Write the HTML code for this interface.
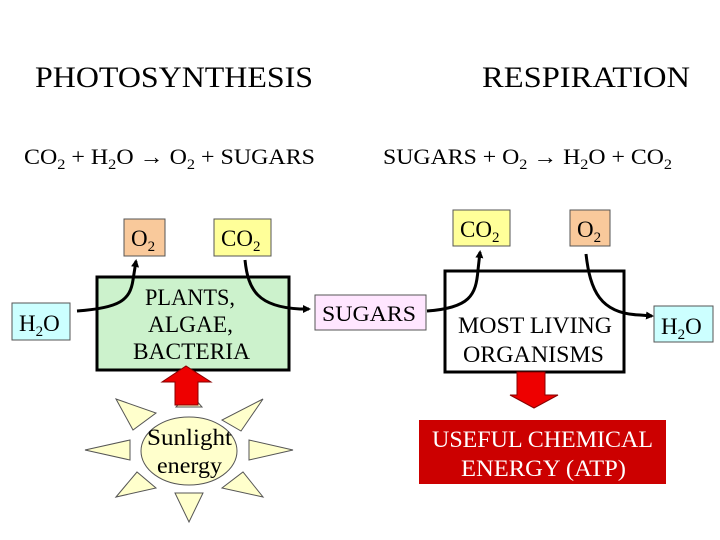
<!DOCTYPE html>
<html><head><style>body{margin:0;background:#fff}svg{display:block}</style></head>
<body>
<svg width="720" height="540" viewBox="0 0 720 540" xmlns="http://www.w3.org/2000/svg" font-family="Liberation Serif, serif">
<defs>
<marker id="ah" markerWidth="8" markerHeight="8" refX="6" refY="4" orient="auto" markerUnits="userSpaceOnUse">
<path d="M0,0 L8,4 L0,8 z" fill="#000"/></marker>
</defs>
<text x="35" y="87" font-size="30" textLength="278" lengthAdjust="spacingAndGlyphs">PHOTOSYNTHESIS</text>
<text x="482" y="87" font-size="30" textLength="208" lengthAdjust="spacingAndGlyphs">RESPIRATION</text>
<text x="24" y="164" font-size="22" textLength="291" lengthAdjust="spacingAndGlyphs">CO<tspan font-size="15" dy="5">2</tspan><tspan dy="-5"> + H</tspan><tspan font-size="15" dy="5">2</tspan><tspan dy="-5">O <tspan font-weight="bold">→</tspan> O</tspan><tspan font-size="15" dy="5">2</tspan><tspan dy="-5"> + SUGARS</tspan></text>
<text x="383" y="164" font-size="22" textLength="289" lengthAdjust="spacingAndGlyphs">SUGARS + O<tspan font-size="15" dy="5">2</tspan><tspan dy="-5"> <tspan font-weight="bold">→</tspan> H</tspan><tspan font-size="15" dy="5">2</tspan><tspan dy="-5">O + CO</tspan><tspan font-size="15" dy="5">2</tspan></text>

<!-- left side -->
<rect x="124" y="219" width="41" height="37" fill="#f9c99b" stroke="#555" stroke-width="1"/>
<text x="131" y="246" font-size="23">O<tspan font-size="15" dy="5">2</tspan></text>
<rect x="214" y="219" width="57" height="37" fill="#ffff99" stroke="#555" stroke-width="1"/>
<text x="221" y="246" font-size="23">CO<tspan font-size="15" dy="5">2</tspan></text>
<rect x="97" y="277" width="192" height="93" fill="#ccf2cc" stroke="#000" stroke-width="3"/>
<text x="145" y="305" font-size="23" textLength="90" lengthAdjust="spacingAndGlyphs">PLANTS,</text>
<text x="148" y="332" font-size="23" textLength="85" lengthAdjust="spacingAndGlyphs">ALGAE,</text>
<text x="133" y="359" font-size="23" textLength="117" lengthAdjust="spacingAndGlyphs">BACTERIA</text>
<rect x="12" y="303" width="58" height="37" fill="#ccffff" stroke="#555" stroke-width="1"/>
<text x="19" y="331" font-size="23">H<tspan font-size="15" dy="5">2</tspan><tspan dy="-5">O</tspan></text>
<path d="M77,311 C120,308 130,300 133,280 L136,261" fill="none" stroke="#000" stroke-width="3" marker-end="url(#ah)"/>
<path d="M245,260 C248,290 258,307 300,309 L309,309" fill="none" stroke="#000" stroke-width="3" marker-end="url(#ah)"/>

<!-- sun rays -->
<g fill="#ffffcc" stroke="#555" stroke-width="1">
<polygon points="116,399 156,413 133,430"/>
<polygon points="85,450 130,440 130,460"/>
<polygon points="116,497 137,472 156,488"/>
<polygon points="175,493 203,493 189,522"/>
<polygon points="263,497 222,488 243,472"/>
<polygon points="293,450 249,440 249,460"/>
<polygon points="263,399 222,420 241,431"/>
<polygon points="176,407 202,407 189,392"/>
</g>
<ellipse cx="189" cy="451" rx="48" ry="34" fill="#ffffcc" stroke="#555" stroke-width="1"/>
<text x="147" y="445" font-size="23" textLength="85" lengthAdjust="spacingAndGlyphs">Sunlight</text>
<text x="157" y="473" font-size="23" textLength="65" lengthAdjust="spacingAndGlyphs">energy</text>
<polygon points="175,405 198,405 198,382 211,382 186,366 162,382 175,382" fill="#ee0000" stroke="#800" stroke-width="1"/>

<!-- right side -->
<rect x="315" y="295" width="111" height="35" fill="#ffe6ff" stroke="#555" stroke-width="1"/>
<text x="322" y="321" font-size="22" textLength="94" lengthAdjust="spacingAndGlyphs">SUGARS</text>
<rect x="453" y="210" width="57" height="36" fill="#ffff99" stroke="#555" stroke-width="1"/>
<text x="460" y="237" font-size="23">CO<tspan font-size="15" dy="5">2</tspan></text>
<rect x="570" y="210" width="40" height="36" fill="#f9c99b" stroke="#555" stroke-width="1"/>
<text x="577" y="237" font-size="23">O<tspan font-size="15" dy="5">2</tspan></text>
<rect x="445" y="271" width="179" height="101" fill="#fff" stroke="#000" stroke-width="3"/>
<text x="458" y="333" font-size="23" textLength="154" lengthAdjust="spacingAndGlyphs">MOST LIVING</text>
<text x="463" y="362" font-size="23" textLength="141" lengthAdjust="spacingAndGlyphs">ORGANISMS</text>
<rect x="654" y="306" width="59" height="36" fill="#ccffff" stroke="#555" stroke-width="1"/>
<text x="661" y="334" font-size="23">H<tspan font-size="15" dy="5">2</tspan><tspan dy="-5">O</tspan></text>
<path d="M427,311 C470,308 476,295 478,270 L480,252" fill="none" stroke="#000" stroke-width="3" marker-end="url(#ah)"/>
<path d="M586,254 C590,290 600,314 640,315 L652,316" fill="none" stroke="#000" stroke-width="3" marker-end="url(#ah)"/>
<polygon points="517,372 545,372 545,395 558,395 534,408 510,395 517,395" fill="#ee0000" stroke="#800" stroke-width="1"/>
<rect x="419" y="420" width="247" height="64" fill="#cc0000"/>
<text x="432" y="447" font-size="23" fill="#fff" textLength="221" lengthAdjust="spacingAndGlyphs">USEFUL CHEMICAL</text>
<text x="461" y="476" font-size="23" fill="#fff" textLength="165" lengthAdjust="spacingAndGlyphs">ENERGY (ATP)</text>
</svg>
</body></html>
